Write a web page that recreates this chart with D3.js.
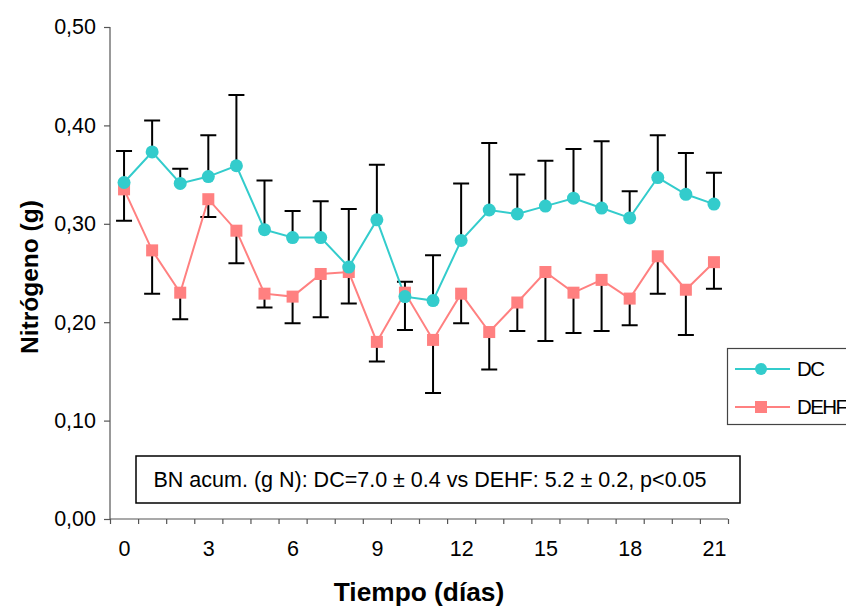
<!DOCTYPE html>
<html><head><meta charset="utf-8">
<script src="https://cdn.jsdelivr.net/npm/d3@7"></script>
<style>body{margin:0;background:#fff}svg{display:block;font-family:"Liberation Sans",Arial,sans-serif}</style>
</head><body><svg id="c" width="846" height="608"></svg>
<script>
const days = d3.range(0, 22);
const xTickLabels = [0, 3, 6, 9, 12, 15, 18, 21];
const yTickLabels = [0, 0.1, 0.2, 0.3, 0.4, 0.5];
const dcMean = [0.342,0.373,0.341,0.348,0.359,0.294,0.286,0.286,0.256,0.304,0.226,0.222,0.283,0.314,0.310,0.318,0.326,0.316,0.306,0.347,0.330,0.320];
const dcUpper = [0.374,0.405,0.356,0.390,0.431,0.344,0.313,0.323,0.315,0.360,0.241,0.268,0.341,0.382,0.350,0.364,0.376,0.384,0.333,0.390,0.372,0.352];
const dehfMean = [0.335,0.273,0.230,0.325,0.293,0.229,0.226,0.249,0.251,0.180,0.230,0.182,0.229,0.190,0.220,0.251,0.230,0.243,0.224,0.267,0.233,0.261];
const dehfLower = [0.303,0.229,0.203,0.307,0.260,0.215,0.199,0.205,0.219,0.160,0.192,0.128,0.199,0.152,0.191,0.181,0.189,0.191,0.197,0.229,0.187,0.234];
const seriesNames = ["DC", "DEHF"];
const colors = ["#33CCCC", "#FF8080"];
const note = "BN acum. (g N): DC=7.0 \u00B1 0.4 vs DEHF: 5.2 \u00B1 0.2, p<0.05";
const FF = "Liberation Sans, Arial, sans-serif";

const svg = d3.select("#c");
const x = d3.scaleLinear().domain([-0.5, 21.5]).range([110, 728]);
const y = d3.scaleLinear().domain([0, 0.5]).range([519, 27]);

// axes
const yAx = svg.append("g").attr("transform", "translate(110,0)")
  .call(d3.axisLeft(y).tickValues(yTickLabels).tickSize(6).tickPadding(8)
    .tickFormat(d => d3.format(".2f")(d).replace(".", ",")));
yAx.select(".domain").attr("stroke", "#555").attr("stroke-width", 1.2).attr("d", "M0," + y(0.5) + "V" + y(0));
yAx.selectAll(".tick line").attr("stroke", "#555").attr("stroke-width", 1.2);
yAx.selectAll("text").attr("font-size", 21.5).attr("fill", "#000").attr("font-family", FF);

const xAx = svg.append("g").attr("transform", "translate(0,519)")
  .call(d3.axisBottom(x).tickValues(d3.range(-0.5, 22, 1)).tickSize(5).tickFormat(""));
xAx.select(".domain").attr("stroke", "#555").attr("stroke-width", 1.2).attr("d", "M110,0H728");
xAx.selectAll(".tick line").attr("stroke", "#555").attr("stroke-width", 1.2);

const xLab = svg.append("g").attr("transform", "translate(0,519)")
  .call(d3.axisBottom(x).tickValues(xTickLabels).tickSize(0).tickPadding(22));
xLab.select(".domain").remove();
xLab.selectAll("text").attr("font-size", 21.5).attr("fill", "#000").attr("font-family", FF);

// titles
svg.append("text").attr("x", 419).attr("y", 601).attr("text-anchor", "middle")
  .attr("font-size", 26.3).attr("font-weight", "bold").text("Tiempo (días)");
svg.append("text").attr("transform", "translate(38,277) rotate(-90)").attr("text-anchor", "middle")
  .attr("font-size", 24.5).attr("font-weight", "bold").text("Nitrógeno (g)");

// note box
svg.append("rect").attr("x", 136).attr("y", 456).attr("width", 604).attr("height", 47)
  .attr("fill", "#fff").attr("stroke", "#000").attr("stroke-width", 1.5);
svg.append("text").attr("x", 430).attr("y", 487).attr("text-anchor", "middle")
  .attr("font-size", 21.5).text(note);

// error bars
const cap = 8;
const eb = svg.append("g").attr("stroke", "#000").attr("stroke-width", 2).attr("fill", "none");
days.forEach((d, i) => {
  eb.append("path").attr("d", `M${x(d)},${y(dcMean[i])}V${y(dcUpper[i])}M${x(d)-cap},${y(dcUpper[i])}H${x(d)+cap}`);
  eb.append("path").attr("d", `M${x(d)},${y(dehfMean[i])}V${y(dehfLower[i])}M${x(d)-cap},${y(dehfLower[i])}H${x(d)+cap}`);
});

// lines
const line = d3.line().x(d => x(d[0])).y(d => y(d[1]));
svg.append("path").datum(days.map((d, i) => [d, dehfMean[i]])).attr("d", line)
  .attr("fill", "none").attr("stroke", colors[1]).attr("stroke-width", 2);
svg.append("path").datum(days.map((d, i) => [d, dcMean[i]])).attr("d", line)
  .attr("fill", "none").attr("stroke", colors[0]).attr("stroke-width", 2);

svg.append("g").selectAll("rect").data(days).join("rect")
  .attr("x", d => x(d) - 6).attr("y", (d, i) => y(dehfMean[i]) - 6)
  .attr("width", 12).attr("height", 12).attr("fill", colors[1]);
svg.append("g").selectAll("circle").data(days).join("circle")
  .attr("cx", d => x(d)).attr("cy", (d, i) => y(dcMean[i])).attr("r", 6.5).attr("fill", colors[0]);

// legend
const lg = svg.append("g");
lg.append("rect").attr("x", 727.5).attr("y", 348.5).attr("width", 140).attr("height", 76)
  .attr("fill", "#fff").attr("stroke", "#444").attr("stroke-width", 1.2);
seriesNames.forEach((n, i) => {
  const yy = 369 + i * 38;
  lg.append("line").attr("x1", 735).attr("x2", 790).attr("y1", yy).attr("y2", yy)
    .attr("stroke", colors[i]).attr("stroke-width", 2);
  if (i === 0) lg.append("circle").attr("cx", 761).attr("cy", yy).attr("r", 6).attr("fill", colors[i]);
  else lg.append("rect").attr("x", 755).attr("y", yy - 6).attr("width", 12).attr("height", 12).attr("fill", colors[i]);
  lg.append("text").attr("x", 797).attr("y", yy + 7).attr("font-size", 20.5).attr("letter-spacing", -1.6).text(n);
});
</script></body></html>
